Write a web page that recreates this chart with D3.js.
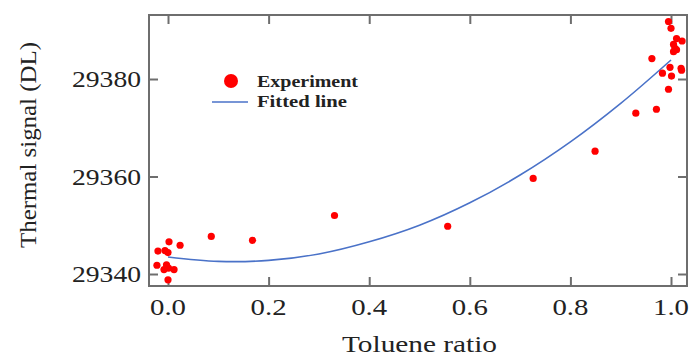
<!DOCTYPE html>
<html>
<head>
<meta charset="utf-8">
<script src="https://cdn.jsdelivr.net/npm/d3@7"></script>
<style>
  html, body { margin: 0; padding: 0; background: #fff; }
  svg { display: block; }
</style>
</head>
<body>
<svg id="chart" width="690" height="358"></svg>
<script>
// Experimental points (toluene ratio, thermal signal)
const expX = [0.002, 0.024, -0.020, -0.006, 0.000, -0.022, -0.003, 0.001, -0.008, 0.012, 0.000,
              0.086, 0.168, 0.331, 0.556, 0.726, 0.849, 0.930, 0.971,
              0.995, 1.000, 1.011, 1.022, 1.005, 1.008, 1.005, 1.011, 0.962, 0.998, 1.020, 1.021, 0.983, 1.001, 0.995];
const expY = [29346.6, 29345.9, 29344.7, 29344.8, 29344.4, 29341.8, 29341.9, 29341.2, 29340.9, 29340.9, 29338.8,
              29347.7, 29346.9, 29352.0, 29349.8, 29359.6, 29365.2, 29373.0, 29373.8,
              29391.8, 29390.4, 29388.3, 29387.8, 29387.1, 29386.3, 29385.6, 29386.0, 29384.2, 29382.4, 29382.2, 29381.8, 29381.2, 29380.6, 29377.9];
// Fitted line
const fitX = [0, 0.1, 0.2, 0.3, 0.4, 0.5, 0.6, 0.7, 0.8, 0.9, 1.0];
const fitY = [29343.5, 29342.6, 29342.8, 29344.1, 29346.6, 29350.0, 29354.6, 29360.3, 29367.1, 29375.0, 29383.9];
const xTicks = [0.0, 0.2, 0.4, 0.6, 0.8, 1.0];
const xTickLabels = ["0.0", "0.2", "0.4", "0.6", "0.8", "1.0"];
const yTicks = [29340, 29360, 29380];
const yTickLabels = ["29340", "29360", "29380"];
const legendLabels = ["Experiment", "Fitted line"];

const FONT = "'Liberation Serif', 'Times New Roman', Times, serif";
const svg = d3.select("#chart");
const L = 149, R = 687, T = 15, B = 286;
const x = d3.scaleLinear().domain([-0.0378, 1.0318]).range([L, R]);
const y = d3.scaleLinear().domain([29337.54, 29393.13]).range([B, T]);

const frameColor = "#6e6e6e";
const tickLen = 9;

// frame
svg.append("rect").attr("x", L).attr("y", T).attr("width", R - L).attr("height", B - T)
  .attr("fill", "none").attr("stroke", frameColor).attr("stroke-width", 2);

// axes with inward ticks
const gB = svg.append("g").attr("transform", `translate(0,${B})`)
  .call(d3.axisBottom(x).tickValues(xTicks).tickSize(-tickLen).tickFormat(""));
const gT = svg.append("g").attr("transform", `translate(0,${T})`)
  .call(d3.axisTop(x).tickValues(xTicks).tickSize(-tickLen).tickFormat(""));
const gL = svg.append("g").attr("transform", `translate(${L},0)`)
  .call(d3.axisLeft(y).tickValues(yTicks).tickSize(-tickLen).tickFormat(""));
const gR = svg.append("g").attr("transform", `translate(${R},0)`)
  .call(d3.axisRight(y).tickValues(yTicks).tickSize(-tickLen).tickFormat(""));
[gB, gT, gL, gR].forEach(g => {
  g.select(".domain").remove();
  g.selectAll(".tick line").attr("stroke", frameColor).attr("stroke-width", 2);
});

// tick labels
svg.append("g").selectAll("text").data(xTicks).join("text")
  .attr("font-family", FONT).attr("fill", "#222")
  .attr("x", d => x(d)).attr("y", 315)
  .attr("text-anchor", "middle").attr("font-size", 23)
  .attr("textLength", 36).attr("lengthAdjust", "spacingAndGlyphs")
  .text((d, i) => xTickLabels[i]);
svg.append("g").selectAll("text").data(yTicks).join("text")
  .attr("font-family", FONT).attr("fill", "#222")
  .attr("x", 72).attr("y", d => y(d) + 8)
  .attr("font-size", 23)
  .attr("textLength", 69).attr("lengthAdjust", "spacingAndGlyphs")
  .text((d, i) => yTickLabels[i]);

// axis titles
svg.append("text").attr("font-family", FONT).attr("fill", "#222")
  .attr("x", 342).attr("y", 352).attr("font-size", 24)
  .attr("textLength", 155).attr("lengthAdjust", "spacingAndGlyphs")
  .text("Toluene ratio");
svg.append("text").attr("font-family", FONT).attr("fill", "#222")
  .attr("transform", "translate(36,248) rotate(-90)")
  .attr("font-size", 24).attr("textLength", 206).attr("lengthAdjust", "spacingAndGlyphs")
  .text("Thermal signal (DL)");

// fitted line
const fitData = fitX.map((d, i) => [d, fitY[i]]);
svg.append("path").datum(fitData)
  .attr("fill", "none").attr("stroke", "#4a72c8").attr("stroke-width", 1.6)
  .attr("d", d3.line().x(d => x(d[0])).y(d => y(d[1])).curve(d3.curveCatmullRom));

// points
const pts = expX.map((d, i) => [d, expY[i]]);
svg.append("g").selectAll("circle").data(pts).join("circle")
  .attr("cx", d => x(d[0])).attr("cy", d => y(d[1])).attr("r", 3.6)
  .attr("fill", "#ff0000");

// legend
const lg = svg.append("g");
lg.append("circle").attr("cx", 231).attr("cy", 81).attr("r", 7).attr("fill", "#ff0000");
lg.append("line").attr("x1", 212).attr("x2", 248).attr("y1", 102).attr("y2", 102)
  .attr("stroke", "#4a72c8").attr("stroke-width", 1.6);
lg.append("text").attr("font-family", FONT).attr("fill", "#222")
  .attr("x", 257).attr("y", 87).attr("font-size", 17).attr("font-weight", "bold")
  .attr("textLength", 101).attr("lengthAdjust", "spacingAndGlyphs").text(legendLabels[0]);
lg.append("text").attr("font-family", FONT).attr("fill", "#222")
  .attr("x", 257).attr("y", 107).attr("font-size", 17).attr("font-weight", "bold")
  .attr("textLength", 90).attr("lengthAdjust", "spacingAndGlyphs").text(legendLabels[1]);
</script>
</body>
</html>
